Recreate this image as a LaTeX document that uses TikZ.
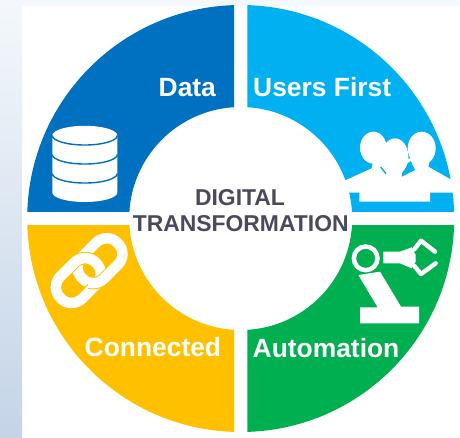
\documentclass[tikz,border=0pt]{standalone}
\usepackage{fontspec}
\setmainfont{Liberation Sans}
\definecolor{qblue}{HTML}{0070C0}
\definecolor{qcyan}{HTML}{00B0F0}
\definecolor{qyellow}{HTML}{FFC000}
\definecolor{qgreen}{HTML}{00B050}
\definecolor{qtitle}{HTML}{4A4A5C}
\definecolor{bgtop}{HTML}{F4F8FC}
\definecolor{bgbot}{HTML}{C4D4E7}
\tikzset{
  label/.style={text=white,anchor=base west,inner sep=0pt,font=\fontsize{26.4}{26}\selectfont\bfseries},
  title/.style={text=qtitle,anchor=base,inner sep=0pt,font=\fontsize{22.9}{24}\selectfont\bfseries},
}
\newcommand{\quadrant}[5]{%
  \begin{scope}
    \clip (#2,#3) rectangle (#4,#5);
    \fill[#1,even odd rule] (240.7,218.5) circle (213.5) (240.7,218.5) circle (111.5);
  \end{scope}}
\newcommand{\chainring}[2]{%
  \begin{scope}[shift={(#1,#2)},rotate=-45]
    \draw[qyellow,line width=12.5pt,rounded corners=15pt] (-25,-15.5) rectangle (25,15.5);
    \draw[white,line width=10.5pt,rounded corners=15pt] (-25,-15.5) rectangle (25,15.5);
  \end{scope}}
\begin{document}
\begin{tikzpicture}[x=1pt,y=1pt,yscale=-1]
\useasboundingbox (0,0) rectangle (460,437);
% background
\fill[white] (0,0) rectangle (460,437);
\fill[bgtop] (0,0) rectangle (460,6);
\shade[top color=bgtop,bottom color=bgbot] (0,0) rectangle (22,437);
% quadrants
\quadrant{qblue}{0}{0}{234}{211.7}
\quadrant{qcyan}{247.3}{0}{460}{211.7}
\quadrant{qyellow}{0}{225.7}{234}{437}
\quadrant{qgreen}{247.3}{225.7}{460}{437}
% database
\begin{scope}
  \fill[white] (52.3,135.5) -- (52.3,192.5) arc[start angle=180,delta angle=-180,x radius=32.5,y radius=9.5] -- (117.3,135.5) arc[start angle=0,delta angle=-180,x radius=32.5,y radius=9.7] -- cycle;
  \foreach \yy in {135.5,154.5,173.5}
    \draw[qblue,line width=1.4pt] (52.3,\yy) arc[start angle=180,delta angle=-180,x radius=32.5,y radius=9.5];
\end{scope}
% people
\begin{scope}[shift={(340,125)},scale=1/3]
  \fill[white] (0,167) -- (18,165) -- (95,130) -- (100,100) -- (270,100) -- (265,125) -- (335,165) -- (350,165) -- (350,203) -- (270,203) -- (270,230) -- (58,230) -- (58,203) -- (0,203) -- cycle;
  \fill[qcyan] (185,155) -- (225,135) -- (212,108) -- (190,125) -- cycle;
  \fill[white] (100,68) ellipse[x radius=40,y radius=48];
  \fill[white] (245,70) ellipse[x radius=42,y radius=50];
  \fill[white] (165,95) ellipse[x radius=40,y radius=55];
  \draw[qcyan,line width=1.4pt] (122,126) -- (138,146);
\end{scope}
% chain
\chainring{100}{260.7}
\chainring{78.3}{280.5}
\begin{scope}
  \clip (88,262) rectangle (112,292);
  \chainring{100}{260.7}
\end{scope}
% robot
\begin{scope}[shift={(345,230)},scale=1/3]
  \draw[white,line width=4.5pt] (62,85) circle (35.5);
  \fill[white] (115,65) -- (165,65) -- (200,52) -- (212,75) -- (212,95) -- (200,115) -- (165,100) -- (115,100) -- cycle;
  \draw[white,line width=4.4pt,line cap=round,line join=round] (208,58) -- (228,32) -- (270,65);
  \draw[white,line width=4.4pt,line cap=round,line join=round] (208,108) -- (228,132) -- (272,100);
  \fill[white] (40,135) -- (105,125) -- (168,230) -- (222,230) -- (222,280) -- (45,280) -- (45,232) -- (98,232) -- cycle;
\end{scope}
% labels
\node[label] (data) at (158.5,96.7) {Data};
\node[label] (users) at (253,96.7) {Users First};
\node[label] (conn) at (84.5,356) {Connected};
\node[label] (auto) at (252.5,357.7) {Automation};
\node[title] (t1) at (240,205) {DIGITAL};
\node[title] (t2) at (240.7,231.7) {TRANSFORMATION};
\end{tikzpicture}
\end{document}
